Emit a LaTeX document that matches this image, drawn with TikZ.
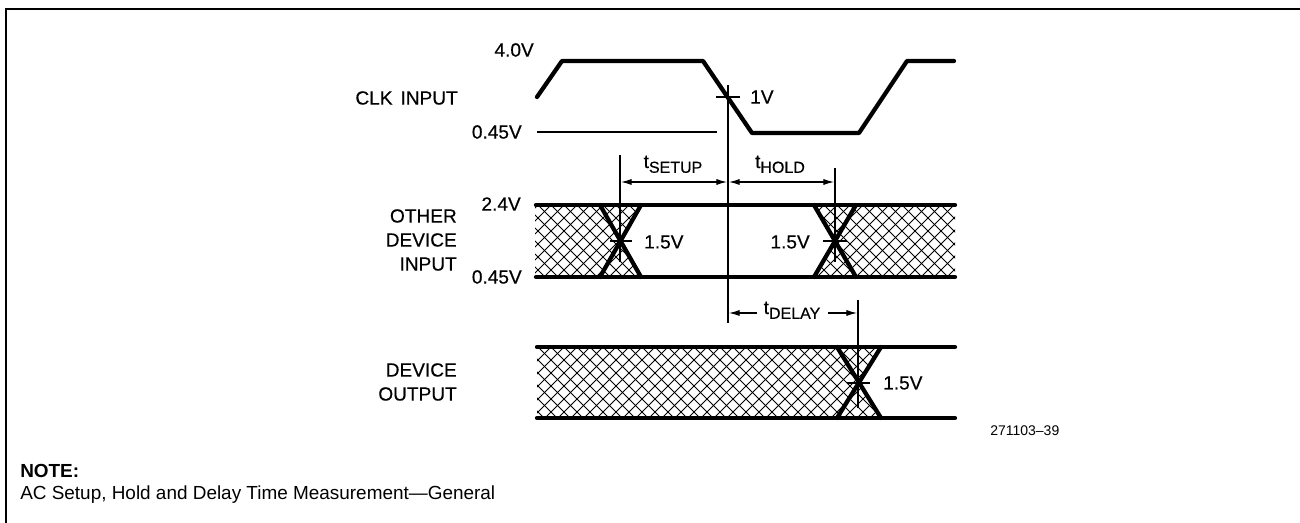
\documentclass[tikz,border=0pt]{standalone}
\usepackage{fontspec}
\setmainfont{Liberation Sans}
\newfontfamily\lbl[FakeBold=0.4]{Liberation Sans}
\usetikzlibrary{arrows.meta}
\newcommand\tsubx[1]{t\raisebox{-3.6pt}{\fontsize{12}{12}\selectfont #1}}
\begin{document}
\begin{tikzpicture}[x=0.75pt,y=-0.75pt,
  thickw/.style={line width=3.2pt, line cap=round, line join=round},
  thinl/.style={line width=0.8pt},
  hatchl/.style={line width=0.55pt},
  dim/.style={line width=0.8pt, -{Latex[length=8pt,width=4.6pt]}},
  lab/.style={font=\lbl\fontsize{14.3}{18}\selectfont, inner sep=0pt},
  small/.style={font=\fontsize{10.5}{12}\selectfont, inner sep=0pt},
  note/.style={font=\fontsize{14.2}{16}\selectfont, inner sep=0pt, anchor=west}]
\useasboundingbox (0,0) rectangle (1300,523);
% frame
\draw[line width=1.6pt] (6,523) -- (6,9) -- (1300,9);

% ---------- labels on the left
\node[lab, anchor=east] (clk) at (458,98) {CLK\hspace{6pt}INPUT};
\node[lab, align=right, anchor=east] (odi) at (457,240) {OTHER\\DEVICE\\INPUT};
\node[lab, align=right, anchor=east] (dout) at (457,382) {DEVICE\\OUTPUT};
\node[lab, anchor=east] (v40) at (534,50) {4.0V};
\node[lab, anchor=east] (v045a) at (522,132) {0.45V};
\node[lab, anchor=east] (v24) at (521,204) {2.4V};
\node[lab, anchor=east] (v045b) at (522,277) {0.45V};

% ---------- CLK waveform
\coordinate (c1) at (537,97);
\coordinate (c2) at (562,61);
\coordinate (c3) at (703,61);
\coordinate (c4) at (752,133);
\coordinate (c5) at (859,133);
\coordinate (c6) at (907,61);
\coordinate (c7) at (954,61);
\draw[thickw] (c1) -- (c2) -- (c3) -- (c4) -- (c5) -- (c6) -- (c7);
\draw[thinl] (537,132) -- (717,132);
\draw[thinl] (716,97) -- (740,97);
\node[lab, anchor=west] (l1v) at (750,97) {1V};

% reference vertical line
\draw[thinl] (728,85) -- (728,323);

% ---------- setup / hold dimensions
\draw[thinl] (620,155) -- (620,262);
\draw[thinl] (835,168) -- (835,262);
\draw[dim] (674,182) -- (621,182);
\draw[dim] (674,182) -- (727,182);
\draw[dim] (781,182) -- (729,182);
\draw[dim] (781,182) -- (834,182);
\node[lab, anchor=base] (tsu) at (673,168) {\tsubx{SETUP}};
\node[lab, anchor=base] (tho) at (780,168) {\tsubx{HOLD}};

% ---------- other device input band
\begin{scope}
  \clip (535,205) -- (641,205) -- (620.5,241) -- (641,277) -- (535,277) -- cycle;
  \foreach \k in {0,...,45} {
    \draw[hatchl] ({460+13*\k},205) -- ++(80,80);
    \draw[hatchl] ({460+13*\k},205) -- ++(-80,80);
  }
\end{scope}
\begin{scope}
  \clip (814,205) -- (835,241) -- (814,277) -- (955,277) -- (955,205) -- cycle;
  \foreach \k in {0,...,45} {
    \draw[hatchl] ({460+13*\k},205) -- ++(80,80);
    \draw[hatchl] ({460+13*\k},205) -- ++(-80,80);
  }
\end{scope}
\draw[thickw] (536,205) -- (955,205);
\draw[thickw] (536,277) -- (955,277);
\draw[thickw] (600,205) -- (641,277);
\draw[thickw] (641,205) -- (600,277);
\draw[thickw] (814,205) -- (856,277);
\draw[thickw] (856,205) -- (814,277);
\draw[thinl] (610,241) -- (632,241);
\draw[thinl] (823,241) -- (847,241);
\node[lab, anchor=west] (l15a) at (644,242) {1.5V};
\node[lab, anchor=east] (l15b) at (810,242) {1.5V};

% ---------- delay dimension
\draw[thinl] (858,300) -- (858,408);
\node[lab, anchor=base] (tdl) at (792,314) {\tsubx{DELAY}};
\draw[dim] (757,313) -- (729,313);
\draw[dim] (828,313) -- (857,313);

% ---------- device output band
\begin{scope}
  \clip (537,347) -- (881,347) -- (859,383) -- (881,418) -- (537,418) -- cycle;
  \foreach \k in {0,...,45} {
    \draw[hatchl] ({460+13*\k},347) -- ++(80,80);
    \draw[hatchl] ({460+13*\k},347) -- ++(-80,80);
  }
\end{scope}
\draw[thickw] (537,347) -- (955,347);
\draw[thickw] (537,418) -- (955,418);
\draw[thickw] (837,347) -- (881,418);
\draw[thickw] (881,347) -- (837,418);
\draw[thinl] (847,383) -- (870,383);
\node[lab, anchor=west] (l15c) at (883,383) {1.5V};

\node[small, anchor=west] (fig) at (990,431) {271103--39};

% ---------- note
\node[note, font=\bfseries\fontsize{14.2}{16}\selectfont] (nt) at (20,471) {NOTE:};
\node[note] (ntx) at (20,495) {AC Setup, Hold and Delay Time Measurement---General};
\end{tikzpicture}
\end{document}
